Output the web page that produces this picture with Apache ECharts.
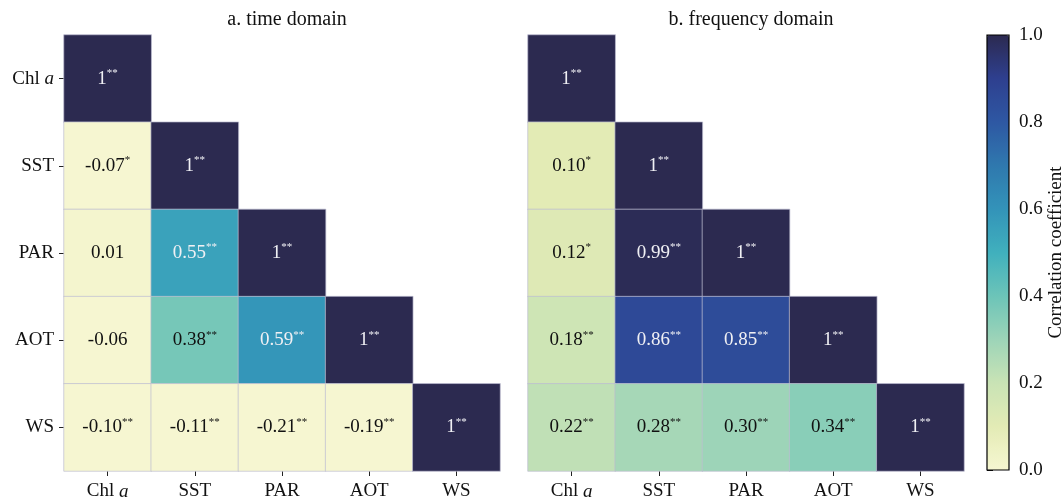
<!DOCTYPE html>
<html>
<head>
<meta charset="utf-8">
<script src="https://cdn.jsdelivr.net/npm/echarts@6/dist/echarts.min.js"></script>
<style>
  html, body { margin: 0; padding: 0; background: #ffffff; }
  #chart { width: 1064px; height: 501px; }
</style>
</head>
<body>
<div id="chart"></div>
<script>
// Variables shown on both matrices (top-to-bottom rows, left-to-right columns)
const variables = ['Chl a', 'SST', 'PAR', 'AOT', 'WS'];

// Lower-triangle correlation rows: row i holds r with columns 0..i
const timeCorr = [
  [1],
  [-0.07, 1],
  [0.01, 0.55, 1],
  [-0.06, 0.38, 0.59, 1],
  [-0.10, -0.11, -0.21, -0.19, 1]
];
const timeSig = [
  ['**'],
  ['*', '**'],
  ['', '**', '**'],
  ['', '**', '**', '**'],
  ['**', '**', '**', '**', '**']
];

const freqCorr = [
  [1],
  [0.10, 1],
  [0.12, 0.99, 1],
  [0.18, 0.86, 0.85, 1],
  [0.22, 0.28, 0.30, 0.34, 1]
];
const freqSig = [
  ['**'],
  ['*', '**'],
  ['*', '**', '**'],
  ['**', '**', '**', '**'],
  ['**', '**', '**', '**', '**']
];

const panelTitles = ['a. time domain', 'b. frequency domain'];
const colorbarTicks = [0, 0.2, 0.4, 0.6, 0.8, 1.0];
const colorbarName = 'Correlation coefficient';

// Yellow-green-blue colour ramp, evenly spaced from 0 to 1
const colormap = ['#f6f6d1', '#e3ebb5', '#c9e3b5', '#9dd4b8', '#6cc4b8', '#40b0bd',
                  '#3393b9', '#2f78ae', '#2e58a3', '#2e3f8f', '#2c2a50'];

const FONT = "'Liberation Serif', 'Times New Roman', serif";

function buildCells(corr, sig) {
  const cells = [];
  corr.forEach((row, i) => {
    row.forEach((v, j) => {
      cells.push({
        value: [j, i, v],
        sig: sig[i][j],
        label: { color: v > 0.5 ? '#f0f0f4' : '#111111' }
      });
    });
  });
  return cells;
}

function fmtValue(v) {
  return v === 1 ? '1' : v.toFixed(2);
}

const varLabel = (name) => name === 'Chl a' ? '{n|Chl }{i|a}' : '{n|' + name + '}';
const labelRich = {
  n: { fontFamily: FONT, fontSize: 19, color: '#111' },
  i: { fontFamily: FONT, fontSize: 19, fontStyle: 'italic', color: '#111' }
};

const grids = [
  { left: 64, top: 35, width: 436, height: 436, outerBoundsMode: 'none', containLabel: false },
  { left: 528, top: 35, width: 436, height: 436, outerBoundsMode: 'none', containLabel: false },
  { left: 987, top: 35, width: 22, height: 435, outerBoundsMode: 'none', containLabel: false,
    show: true, borderColor: '#000', borderWidth: 1.2, backgroundColor: 'transparent', z: 10 }
];

function catX(gi) {
  return {
    type: 'category', gridIndex: gi, data: variables,
    axisLine: { show: false },
    axisTick: { show: true, alignWithLabel: true, length: 5, lineStyle: { color: '#222', width: 1 } },
    axisLabel: { margin: 11, formatter: varLabel, rich: labelRich },
    splitLine: { show: false }, splitArea: { show: false }
  };
}
function catY(gi, showLabels) {
  return {
    type: 'category', gridIndex: gi, data: variables, inverse: true,
    axisLine: { show: false },
    axisTick: { show: showLabels, alignWithLabel: true, length: 5, lineStyle: { color: '#222', width: 1 } },
    axisLabel: { show: showLabels, margin: 10, formatter: varLabel, rich: labelRich },
    splitLine: { show: false }, splitArea: { show: false }
  };
}

function heatSeries(idx, corr, sig) {
  return {
    type: 'heatmap',
    xAxisIndex: idx, yAxisIndex: idx,
    data: buildCells(corr, sig),
    itemStyle: { borderColor: 'rgba(190,190,210,0.7)', borderWidth: 1 },
    emphasis: { disabled: true },
    label: {
      show: true,
      formatter: (p) => '{v|' + fmtValue(p.data.value[2]) + '}' + (p.data.sig ? '{s|' + p.data.sig + '}' : ''),
      rich: {
        v: { fontFamily: FONT, fontSize: 19, lineHeight: 22 },
        s: { fontFamily: FONT, fontSize: 11, lineHeight: 11, verticalAlign: 'top' }
      }
    }
  };
}

const chart = echarts.init(document.getElementById('chart'), null, { renderer: 'canvas' });

chart.setOption({
  backgroundColor: '#ffffff',
  animation: false,
  textStyle: { fontFamily: FONT },
  title: [
    { text: panelTitles[0], left: 282, top: 5, textAlign: 'center',
      textStyle: { fontFamily: FONT, fontSize: 20, fontWeight: 'normal', color: '#111' } },
    { text: panelTitles[1], left: 746, top: 5, textAlign: 'center',
      textStyle: { fontFamily: FONT, fontSize: 20, fontWeight: 'normal', color: '#111' } }
  ],
  grid: grids,
  xAxis: [
    catX(0), catX(1),
    { type: 'value', gridIndex: 2, show: false, min: 0, max: 1 }
  ],
  yAxis: [
    catY(0, true), catY(1, false),
    {
      type: 'value', gridIndex: 2, position: 'right',
      min: colorbarTicks[0], max: colorbarTicks[colorbarTicks.length - 1], interval: 0.2,
      axisLine: { show: false },
      axisTick: { show: true, length: 6, lineStyle: { color: '#111', width: 1 } },
      axisLabel: { margin: 10, fontFamily: FONT, fontSize: 19, color: '#111',
                   formatter: (v) => v.toFixed(1) },
      splitLine: { show: false },
      name: colorbarName, nameLocation: 'middle', nameRotate: 90, nameGap: 36,
      nameTextStyle: { fontFamily: FONT, fontSize: 19, color: '#111' }
    }
  ],
  visualMap: {
    type: 'continuous',
    min: 0, max: 1,
    seriesIndex: [0, 1],
    calculable: false,
    hoverLink: false,
    orient: 'vertical',
    left: 987, top: 35,
    itemWidth: 22, itemHeight: 435,
    padding: 0,
    text: null,
    inRange: { color: colormap }
  },
  series: [
    heatSeries(0, timeCorr, timeSig),
    heatSeries(1, freqCorr, freqSig)
  ]
});
</script>
</body>
</html>
